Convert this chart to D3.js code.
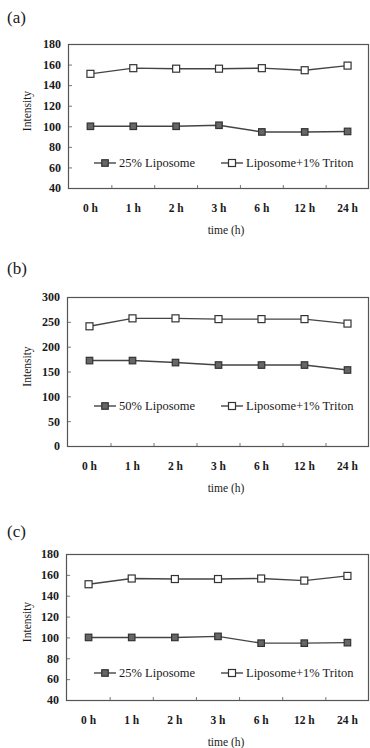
<!DOCTYPE html>
<html>
<head>
<meta charset="utf-8">
<script src="https://cdn.jsdelivr.net/npm/d3@7"></script>
<style>
  html, body { margin: 0; padding: 0; background: #fff; }
  svg { display: block; }
  text { font-family: "Liberation Serif", "DejaVu Serif", serif; fill: #1a1a1a; }
</style>
</head>
<body>
<svg id="chart" width="370" height="748"></svg>
<script>
// time points on the x axis
var timeLabels = ['0 h', '1 h', '2 h', '3 h', '6 h', '12 h', '24 h'];

// panel (a) and (c): 25% liposome
var lipo25 = [100, 100, 100, 101, 94.5, 94.5, 95];
var triton25 = [151, 156.5, 156, 156, 156.5, 154.5, 159];

// panel (b): 50% liposome
var lipo50 = [172, 172, 168, 163, 163, 163, 153];
var triton50 = [241, 257, 257, 255.5, 255.5, 255.5, 246.5];

var ticks25 = [40, 60, 80, 100, 120, 140, 160, 180];
var ticks50 = [0, 50, 100, 150, 200, 250, 300];

var names25 = ['25% Liposome', 'Liposome+1% Triton'];
var names50 = ['50% Liposome', 'Liposome+1% Triton'];

var svg = d3.select('#chart');

var panels = [
    { tag: '(a)', tagY: 23, top: 44, bottom: 188, left: 69, ticks: ticks25,
      lipo: lipo25, triton: triton25, names: names25, legendY: 163 },
    { tag: '(b)', tagY: 274, top: 297, bottom: 446, left: 68, ticks: ticks50,
      lipo: lipo50, triton: triton50, names: names50, legendY: 406 },
    { tag: '(c)', tagY: 537, top: 554, bottom: 700, left: 67, ticks: ticks25,
      lipo: lipo25, triton: triton25, names: names25, legendY: 673 }
];

var right = 369;
var lineColor = '#444';

panels.forEach(drawPanel);

function drawPanel(p) {
    var g = svg.append('g');

    var x = d3.scaleBand()
        .domain(timeLabels)
        .range([p.left, right]);

    var y = d3.scaleLinear()
        .domain(d3.extent(p.ticks))
        .range([p.bottom, p.top]);

    function cx(d, i) { return x(timeLabels[i]) + x.bandwidth() / 2; }

    // panel letter
    g.append('text')
        .attr('x', 7)
        .attr('y', p.tagY)
        .style('font-size', '17px')
        .text(p.tag);

    // y axis, ticks point inward
    var yAxis = g.append('g')
        .attr('transform', 'translate(' + p.left + ',0)')
        .call(d3.axisLeft(y).tickValues(p.ticks).tickSizeInner(-3).tickSizeOuter(0).tickPadding(8));
    yAxis.select('.domain').remove();
    yAxis.selectAll('line').attr('stroke', '#777');
    yAxis.selectAll('text')
        .style('font-family', '"Liberation Serif", serif')
        .style('font-size', '12px')
        .style('font-weight', 'bold')
        .attr('fill', '#2a2a2a');

    // category boundary ticks on the bottom
    g.selectAll('.xtick')
        .data(timeLabels.slice(1))
        .enter().append('line')
        .attr('x1', function(d) { return x(d); })
        .attr('x2', function(d) { return x(d); })
        .attr('y1', p.bottom)
        .attr('y2', p.bottom - 3)
        .attr('stroke', '#777');

    // frame
    g.append('rect')
        .attr('x', p.left - 0.5)
        .attr('y', p.top + 0.5)
        .attr('width', right - p.left)
        .attr('height', p.bottom - p.top)
        .attr('fill', 'none')
        .attr('stroke', '#555')
        .attr('stroke-width', 1.2);

    // category labels
    g.selectAll('.xlabel')
        .data(timeLabels)
        .enter().append('text')
        .attr('x', function(d) { return x(d) + x.bandwidth() / 2; })
        .attr('y', p.bottom + 20)
        .attr('dy', '0.35em')
        .attr('text-anchor', 'middle')
        .style('font-size', '11.5px')
        .style('font-weight', 'bold')
        .attr('fill', '#2a2a2a')
        .text(function(d) { return d; });

    g.append('text')
        .attr('x', 226)
        .attr('y', p.bottom + 42)
        .attr('dy', '0.35em')
        .attr('text-anchor', 'middle')
        .style('font-size', '11.5px')
        .text('time (h)');

    g.append('text')
        .attr('transform', 'translate(27,' + ((p.top + p.bottom) / 2 - 5) + ') rotate(-90)')
        .attr('text-anchor', 'middle')
        .attr('dy', '0.35em')
        .style('font-size', '11.5px')
        .text('Intensity');

    var line = d3.line()
        .x(cx)
        .y(function(d) { return y(d); });

    var series = [
        { values: p.lipo, filled: true, name: p.names[0], lx: 105 },
        { values: p.triton, filled: false, name: p.names[1], lx: 232 }
    ];

    series.forEach(function(s) {
        g.append('path')
            .datum(s.values)
            .attr('d', line)
            .attr('fill', 'none')
            .attr('stroke', lineColor)
            .attr('stroke-width', 1.4);

        var size = s.filled ? 6.5 : 7;
        g.selectAll(null)
            .data(s.values)
            .enter().append('rect')
            .attr('x', function(d, i) { return cx(d, i) - size / 2; })
            .attr('y', function(d) { return y(d) - size / 2; })
            .attr('width', size)
            .attr('height', size)
            .attr('fill', s.filled ? '#666' : '#fff')
            .attr('stroke', '#333')
            .attr('stroke-width', 1.2);

        // legend entry
        g.append('line')
            .attr('x1', s.lx - 11)
            .attr('x2', s.lx + 11)
            .attr('y1', p.legendY)
            .attr('y2', p.legendY)
            .attr('stroke', lineColor)
            .attr('stroke-width', 1.4);
        g.append('rect')
            .attr('x', s.lx - size / 2)
            .attr('y', p.legendY - size / 2)
            .attr('width', size)
            .attr('height', size)
            .attr('fill', s.filled ? '#666' : '#fff')
            .attr('stroke', '#333')
            .attr('stroke-width', 1.2);
        g.append('text')
            .attr('x', s.lx + 14)
            .attr('y', p.legendY)
            .attr('dy', '0.35em')
            .style('font-size', '12.5px')
            .text(s.name);
    });
}
</script>
</body>
</html>
